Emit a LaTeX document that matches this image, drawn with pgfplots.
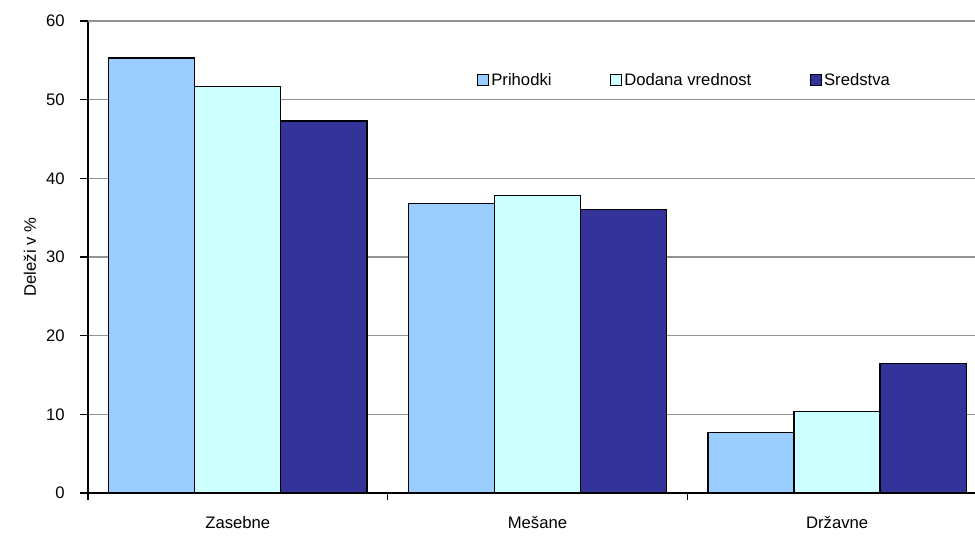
\documentclass[border=0pt]{standalone}
\usepackage{fontspec}
\setmainfont{Liberation Sans}
\usepackage{pgfplots}
\pgfplotsset{compat=1.18}
\definecolor{prih}{HTML}{99CCFF}
\definecolor{dod}{HTML}{CCFFFF}
\definecolor{sred}{HTML}{333399}

\begin{document}
\begin{tikzpicture}
\begin{axis}[
  at={(0,0)}, anchor=south west,
  scale only axis, width=665.25pt, height=354pt,
  ybar, bar width=0.287,
  xmin=-0.5, xmax=2.46, ymin=0, ymax=60,
  ytick={0,10,...,60},
  xtick={0,1,2}, xticklabels={Zasebne, Mešane, Državne},
  minor xtick={-0.5,0.5,1.5},
  axis lines*=left,
  axis line style={-, line width=1pt},
  tick align=outside,
  major tick length=6pt, minor tick length=5pt,
  major x tick style={draw=none},
  every tick/.style={black, line width=0.8pt},
  ymajorgrids,
  major grid style={gray!85, line width=0.9pt},
  extra y ticks={60}, extra y tick labels={},
  extra y tick style={grid style={black, line width=0.9pt}},
  /pgf/number format/assume math mode=true,
  tick label style={font=\fontsize{12.5}{14}\selectfont},
  yticklabel style={xshift=-8pt},
  xticklabel style={yshift=-8pt},
  ylabel={Deleži v \%},
  every axis y label/.style={at={(rel axis cs:0,0.5)}, xshift=-43.5pt, rotate=90, anchor=center, font=\fontsize{12.5}{14}\selectfont},
  legend style={draw=none, fill=none, at={(rel axis cs:0.434,0.875)}, anchor=west,
    font=\fontsize{12.5}{14}\selectfont, /tikz/every even column/.append style={column sep=42pt}},
  legend columns=3,
  legend image code/.code={\draw[#1, draw=black, line width=0.6pt] (0pt,-4pt) rectangle (8pt,4pt);},
]
\addplot[fill=prih, draw=black, line width=1pt, bar shift=-0.287] coordinates {(0,55.3) (1,36.8) (2,7.7)};
\addplot[fill=dod, draw=black, line width=1pt, bar shift=0] coordinates {(0,51.7) (1,37.8) (2,10.4)};
\addplot[fill=sred, draw=black, line width=1pt, bar shift=0.287] coordinates {(0,47.3) (1,36.0) (2,16.5)};
\legend{Prihodki, Dodana vrednost, Sredstva}
\end{axis}
\pgfresetboundingbox
\path[use as bounding box] (-66pt,-32.25pt) rectangle (665.25pt,369.75pt);
\end{tikzpicture}
\end{document}
